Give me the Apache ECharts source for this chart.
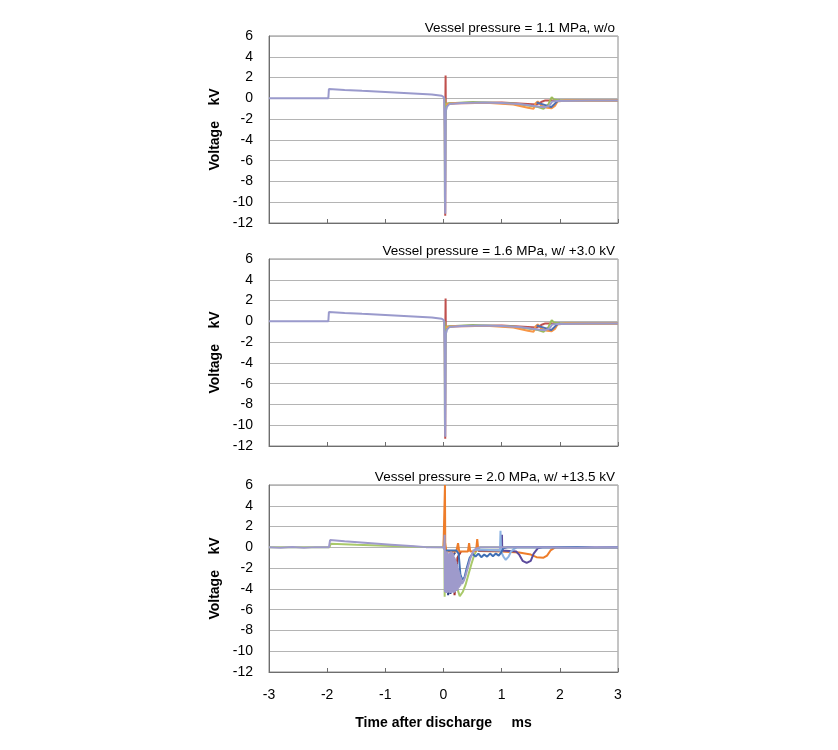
<!DOCTYPE html>
<html><head><meta charset="utf-8">
<script src="https://cdn.jsdelivr.net/npm/echarts@6/dist/echarts.min.js"></script>
<style>html,body{margin:0;padding:0;background:#fff}#c{width:838px;height:750px}</style>
</head><body><div id="c"></div>
<script>
// ---------- labels ----------
const panelTitles = ["Vessel pressure = 1.1 MPa, w/o", "Vessel pressure = 1.6 MPa, w/ +3.0 kV", "Vessel pressure = 2.0 MPa, w/ +13.5 kV"];
const yTicks = [-12, -10, -8, -6, -4, -2, 0, 2, 4, 6];
const xTicks = [-3, -2, -1, 0, 1, 2, 3];
const yName = "Voltage    kV";
const xName = "Time after discharge     ms";

// ---------- panel 1 (1.1 MPa) ----------
const p1Lavender = [[-3,0],[-1.98,0],[-1.97,0.9],[-1.7,0.8],[-1.4,0.72],[-1.0,0.62],[-0.6,0.5],[-0.2,0.38],[-0.03,0.25],[0.01,0.1],[0.02,-3],[0.025,-9.5],[0.03,-11.1],[0.035,-6.5],[0.04,-1.2],[0.06,-0.8],[0.1,-0.55],[0.3,-0.45],[0.7,-0.4],[1.0,-0.45],[1.3,-0.55],[1.5,-0.7],[1.65,-0.8],[1.75,-0.85],[1.82,-0.7],[1.87,-0.3],[1.95,-0.25],[2.5,-0.2],[3,-0.2]];
const p1Orange = [[0.04,-0.6],[0.2,-0.45],[0.8,-0.45],[1.2,-0.6],[1.45,-0.9],[1.55,-1.0],[1.58,-0.5],[1.62,-0.3],[1.68,-0.7],[1.78,-0.9],[1.86,-0.95],[1.92,-0.7],[1.96,-0.3],[2.1,-0.2],[3,-0.2]];
const p1Green = [[0.02,0],[0.025,-10.2],[0.035,-2],[0.05,-0.5],[0.5,-0.35],[1.2,-0.5],[1.6,-0.8],[1.72,-1.0],[1.8,-0.6],[1.86,0.1],[1.9,-0.1],[2.0,-0.2],[3,-0.2]];
const p1Red = [[0.02,0],[0.03,-11.3],[0.033,0],[0.036,2.2],[0.039,-0.6],[0.1,-0.5],[1.0,-0.4],[1.6,-0.6],[1.7,-0.3],[1.75,-0.2],[3,-0.2]];
const p1Blue = [[1.6,-0.4],[1.78,-0.7],[1.85,-0.85],[1.9,-0.6],[1.95,-0.3],[2.0,-0.2]];

// ---------- panel 2 (1.6 MPa) ----------
const p2Lavender = [[-3,0],[-1.98,0],[-1.97,0.9],[-1.7,0.8],[-1.4,0.72],[-1.0,0.62],[-0.6,0.5],[-0.2,0.38],[-0.03,0.25],[0.01,0.1],[0.02,-3],[0.025,-9.5],[0.03,-11.1],[0.035,-6.5],[0.04,-1.2],[0.06,-0.8],[0.1,-0.55],[0.3,-0.45],[0.7,-0.4],[1.0,-0.45],[1.3,-0.55],[1.5,-0.7],[1.65,-0.8],[1.75,-0.85],[1.82,-0.7],[1.87,-0.3],[1.95,-0.25],[2.5,-0.2],[3,-0.2]];
const p2Orange = [[0.04,-0.6],[0.2,-0.45],[0.8,-0.45],[1.2,-0.6],[1.45,-0.9],[1.55,-1.0],[1.58,-0.5],[1.62,-0.3],[1.68,-0.7],[1.78,-0.9],[1.86,-0.95],[1.92,-0.7],[1.96,-0.3],[2.1,-0.2],[3,-0.2]];
const p2Green = [[0.02,0],[0.025,-10.2],[0.035,-2],[0.05,-0.5],[0.5,-0.35],[1.2,-0.5],[1.6,-0.8],[1.72,-1.0],[1.8,-0.6],[1.86,0.1],[1.9,-0.1],[2.0,-0.2],[3,-0.2]];
const p2Red = [[0.02,0],[0.03,-11.3],[0.033,0],[0.036,2.2],[0.039,-0.6],[0.1,-0.5],[1.0,-0.4],[1.6,-0.6],[1.7,-0.3],[1.75,-0.2],[3,-0.2]];
const p2Blue = [[1.6,-0.4],[1.78,-0.7],[1.85,-0.85],[1.9,-0.6],[1.95,-0.3],[2.0,-0.2]];

// ---------- panel 3 (2.0 MPa) ----------
const p3Green = [[-3,0],[-1.96,0],[-1.94,0.35],[-1.5,0.25],[-1.0,0.15],[-0.5,0.05],[0,0],[0.015,1.4],[0.02,-4.75],[0.03,-0.5],[0.28,-4.7],[0.33,-4.3],[0.38,-3.6],[0.43,-2.6],[0.48,-1.6],[0.53,-0.7],[0.58,-0.2],[0.63,0],[3,0]];
const p3Navy = [[0.05,-0.5],[0.08,-4.6],[0.1,-0.8],[0.12,-4.5],[0.14,-1],[0.2,-0.5]];
const p3Red = [[0.15,-0.5],[0.19,-4.6],[0.21,-4.7],[0.24,-1.0],[0.3,-0.4]];
const p3Blue = [[0.03,-0.3],[0.22,-0.3],[0.26,-0.6],[0.29,-2.6],[0.32,-3.1],[0.36,-2.9],[0.4,-2.0],[0.45,-1.0],[0.5,-0.6],[0.55,-0.9],[0.6,-0.6],[0.65,-0.95],[0.7,-0.7],[0.75,-0.9],[0.8,-0.6],[0.85,-0.85],[0.9,-0.6],[0.95,-0.8],[0.99,-0.5],[1.03,-0.1],[1.1,0],[3,0]];
const p3LightBlue = [[0.5,-0.3],[0.6,-0.2],[0.97,-0.3],[0.98,1.6],[0.99,-0.4],[1.03,-0.9],[1.07,-1.2],[1.12,-0.9],[1.16,-0.4],[1.2,-0.2],[1.26,0],[3,0]];
const p3Purple = [[0.6,-0.3],[1.0,-0.3],[1.005,1.2],[1.01,-0.3],[1.25,-0.4],[1.3,-0.7],[1.36,-1.3],[1.43,-1.5],[1.5,-1.3],[1.55,-0.6],[1.62,-0.1],[1.7,0],[3,0]];
const p3Orange = [[0,0],[0.02,0],[0.025,6],[0.03,0.4],[0.05,-0.4],[0.22,-0.4],[0.25,0.4],[0.27,-0.4],[0.42,-0.4],[0.44,0.4],[0.46,-0.4],[0.56,-0.35],[0.58,0.8],[0.6,-0.35],[1.0,-0.4],[1.3,-0.5],[1.5,-0.7],[1.6,-0.95],[1.72,-1.0],[1.78,-0.8],[1.84,-0.3],[1.92,0],[3,0]];
const p3Lavender = [[-3,0],[-2.8,-0.05],[-2.6,0.03],[-2.4,-0.04],[-2.2,0.02],[-1.97,0],[-1.95,0.7],[-1.7,0.58],[-1.3,0.42],[-0.9,0.26],[-0.5,0.1],[-0.3,0.02],[0,0],[0.01,-0.2],[0.02,1.2],[0.025,-4.3],[0.03,-0.3],[0.035,-4.2],[0.04,-0.5],[0.045,-4.4],[0.05,-0.6],[0.055,-4.3],[0.06,-0.4],[0.065,-4.4],[0.07,-0.5],[0.075,-4.3],[0.08,-0.7],[0.085,-4.2],[0.09,-0.6],[0.095,-4.3],[0.1,-0.8],[0.105,-4.4],[0.11,-0.5],[0.115,-4.2],[0.12,-0.6],[0.125,-4.3],[0.13,-0.4],[0.135,-4.4],[0.14,-0.7],[0.145,-4.3],[0.15,-0.5],[0.155,-4.2],[0.16,-0.8],[0.165,-4.3],[0.17,-0.6],[0.175,-4.4],[0.18,-0.9],[0.185,-4.2],[0.19,-1.0],[0.195,-4.3],[0.2,-1.1],[0.205,-4.2],[0.21,-1.3],[0.215,-4.1],[0.22,-1.4],[0.225,-4.2],[0.23,-1.6],[0.235,-4.0],[0.24,-1.8],[0.245,-4.1],[0.25,-2.0],[0.255,-3.9],[0.26,-2.2],[0.265,-3.9],[0.27,-2.4],[0.275,-3.8],[0.28,-2.6],[0.29,-3.7],[0.3,-2.9],[0.32,-3.5],[0.35,-3.2],[0.38,-2.7],[0.42,-1.9],[0.46,-1.1],[0.5,-0.5],[0.55,-0.15],[0.62,0],[1.2,0],[1.8,0],[2.3,-0.04],[2.6,0.03],[3,0]];

// ---------- build ----------
const fontFam = '"Liberation Sans", Arial, sans-serif';
const gridTops = [36, 259, 485];
const plotH = 187;
const panels = [
  [[p1Red,'#C0504D'],[p1Green,'#9BBB59'],[p1Orange,'#F79646'],[p1Blue,'#4F6FB0'],[p1Lavender,'#9A9ACC']],
  [[p2Red,'#C0504D'],[p2Green,'#9BBB59'],[p2Orange,'#F79646'],[p2Blue,'#4F6FB0'],[p2Lavender,'#9A9ACC']],
  [[p3Green,'#A9C96A'],[p3Navy,'#2E3F86'],[p3Red,'#A33030'],[p3Orange,'#EE7D2A'],[p3Purple,'#5B4A9C'],[p3LightBlue,'#8DB4E2'],[p3Blue,'#3F6FB5'],[p3Lavender,'#9E9ACB']]
];
const grids = [], xAxes = [], yAxes = [], series = [], titles = [];
gridTops.forEach((t, i) => {
  grids.push({left: 269, width: 349, top: t, height: plotH, show: true, borderColor: '#8a8a8a', borderWidth: 1, containLabel: false});
  const last = i === 2;
  xAxes.push({
    type: 'value', gridIndex: i, min: xTicks[0], max: xTicks[xTicks.length-1], interval: 1,
    axisLine: {onZero: false, lineStyle: {color: '#6e6e6e', width: 1}},
    axisTick: {show: true, inside: true, length: 4, lineStyle: {color: '#6e6e6e'}},
    splitLine: {show: false},
    axisLabel: {show: last, color: '#000', fontSize: 14, fontFamily: fontFam, margin: 16},
    name: last ? xName : '', nameLocation: 'middle', nameGap: 44,
    nameTextStyle: {color: '#000', fontSize: 14, fontWeight: 'bold', fontFamily: fontFam}
  });
  yAxes.push({
    type: 'value', gridIndex: i, min: yTicks[0], max: yTicks[yTicks.length-1], interval: 2,
    axisLine: {show: true, onZero: false, lineStyle: {color: '#6e6e6e', width: 1}},
    axisTick: {show: false},
    splitLine: {show: true, lineStyle: {color: '#b4b4b4', width: 1}},
    axisLabel: {color: '#000', fontSize: 14, fontFamily: fontFam, margin: 16},
    name: yName, nameLocation: 'middle', nameGap: 47, nameRotate: 90,
    nameTextStyle: {color: '#000', fontSize: 14, fontWeight: 'bold', fontFamily: fontFam}
  });
  titles.push({text: panelTitles[i], right: 218, top: t - 20,
    textStyle: {color: '#000', fontSize: 13.5, fontWeight: 'normal', fontFamily: fontFam}});
  panels[i].forEach(([d, c]) => {
    series.push({type: 'line', xAxisIndex: i, yAxisIndex: i, data: d, showSymbol: false, symbol: 'none',
      lineStyle: {color: c, width: 2}, itemStyle: {color: c}, silent: true, clip: true});
  });
});
const chart = echarts.init(document.getElementById('c'), null, {renderer: 'canvas'});
chart.setOption({animation: false, backgroundColor: '#fff', title: titles, grid: grids, xAxis: xAxes, yAxis: yAxes, series: series});
</script></body></html>
